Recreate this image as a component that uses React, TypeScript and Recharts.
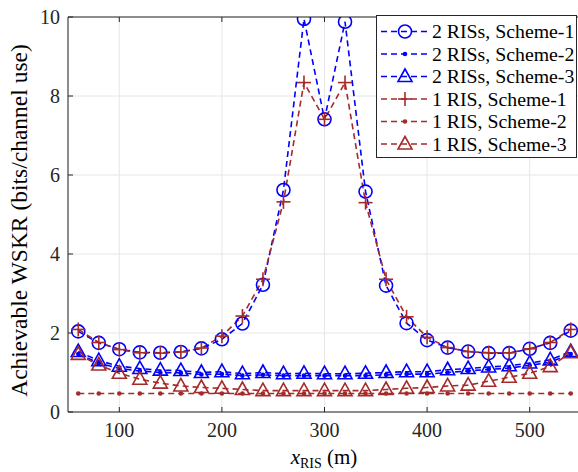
import React from 'react'
import { LineChart, Line, XAxis, YAxis, CartesianGrid, ReferenceLine } from 'recharts'

// sampled RIS positions (m)
const xRis = [60, 80, 100, 120, 140, 160, 180, 200, 220, 240, 260, 280, 300, 320, 340, 360, 380, 400, 420, 440, 460, 480, 500, 520, 540]

const twoRisScheme1 = [2.04, 1.75, 1.59, 1.51, 1.5, 1.52, 1.61, 1.84, 2.24, 3.22, 5.62, 9.95, 7.41, 9.88, 5.58, 3.2, 2.25, 1.82, 1.63, 1.53, 1.49, 1.49, 1.6, 1.75, 2.06]
const twoRisScheme2 = [1.47, 1.24, 1.1, 1.04, 1.0, 0.99, 0.95, 0.96, 0.92, 0.94, 0.92, 0.92, 0.92, 0.92, 0.92, 0.94, 0.96, 0.96, 1.0, 1.04, 1.08, 1.11, 1.18, 1.26, 1.47]
const twoRisScheme3 = [1.53, 1.3, 1.16, 1.1, 1.06, 1.05, 1.0, 1.02, 0.97, 1.0, 0.97, 0.98, 0.97, 0.97, 0.98, 1.0, 1.02, 1.02, 1.07, 1.1, 1.14, 1.17, 1.24, 1.32, 1.53]
const oneRisScheme1 = [2.09, 1.76, 1.58, 1.5, 1.49, 1.52, 1.62, 1.92, 2.43, 3.36, 5.32, 8.34, 7.41, 8.34, 5.3, 3.36, 2.41, 1.89, 1.63, 1.53, 1.5, 1.5, 1.6, 1.76, 2.09]
const oneRisScheme2 = [0.47, 0.47, 0.47, 0.47, 0.47, 0.47, 0.47, 0.47, 0.47, 0.47, 0.47, 0.47, 0.47, 0.47, 0.47, 0.47, 0.47, 0.47, 0.47, 0.47, 0.47, 0.47, 0.47, 0.47, 0.47]
const oneRisScheme3 = [1.46, 1.19, 0.98, 0.83, 0.73, 0.66, 0.62, 0.6, 0.57, 0.54, 0.54, 0.54, 0.54, 0.54, 0.54, 0.57, 0.6, 0.62, 0.66, 0.68, 0.78, 0.88, 0.98, 1.15, 1.5]

const xTicks = [100, 200, 300, 400, 500]
const yTicks = [0, 2, 4, 6, 8, 10]

const BLUE = '#0000FF'
const RED = '#A52A2A'
const AXIS = '#262626'
const FONT = '"Liberation Serif", "Times New Roman", serif'

const series = [
  { key: 's2r1', label: '2 RISs, Scheme-1', color: BLUE, marker: 'circle', values: twoRisScheme1 },
  { key: 's2r2', label: '2 RISs, Scheme-2', color: BLUE, marker: 'dot', values: twoRisScheme2 },
  { key: 's2r3', label: '2 RISs, Scheme-3', color: BLUE, marker: 'triangle', values: twoRisScheme3 },
  { key: 's1r1', label: '1 RIS, Scheme-1', color: RED, marker: 'plus', values: oneRisScheme1 },
  { key: 's1r2', label: '1 RIS, Scheme-2', color: RED, marker: 'dot', values: oneRisScheme2 },
  { key: 's1r3', label: '1 RIS, Scheme-3', color: RED, marker: 'triangle', values: oneRisScheme3 },
]

const data = xRis.map((x, i) => {
  const row: any = { x }
  series.forEach((s) => (row[s.key] = s.values[i]))
  return row
})

const W = 584
const H = 472
const PLOT_TOP = 17
const PLOT_BOTTOM = 412
const PLOT_LEFT = 68

function Marker({ kind, cx, cy, color }: { kind: string; cx: number; cy: number; color: string }) {
  if (cx == null || cy == null) return null
  if (kind === 'circle') return <circle cx={cx} cy={cy} r={6.5} fill="none" stroke={color} strokeWidth={1.6} />
  if (kind === 'dot') return <circle cx={cx} cy={cy} r={2.3} fill={color} stroke="none" />
  if (kind === 'plus')
    return (
      <g stroke={color} strokeWidth={1.6}>
        <line x1={cx - 7} y1={cy} x2={cx + 7} y2={cy} />
        <line x1={cx} y1={cy - 7} x2={cx} y2={cy + 7} />
      </g>
    )
  return (
    <polygon
      points={`${cx},${cy - 7.5} ${cx - 7},${cy + 5} ${cx + 7},${cy + 5}`}
      fill="none"
      stroke={color}
      strokeWidth={1.6}
    />
  )
}

const XTick = (props: any) => {
  const { x, payload } = props
  return (
    <g>
      <line x1={x} y1={PLOT_BOTTOM} x2={x} y2={PLOT_BOTTOM - 5} stroke={AXIS} />
      <line x1={x} y1={PLOT_TOP} x2={x} y2={PLOT_TOP + 5} stroke={AXIS} />
      <text x={x} y={PLOT_BOTTOM + 25} textAnchor="middle" fontSize={20} fill={AXIS} fontFamily={FONT}>
        {payload.value}
      </text>
    </g>
  )
}

const YTick = (props: any) => {
  const { y, payload } = props
  return (
    <g>
      <line x1={PLOT_LEFT} y1={y} x2={PLOT_LEFT + 5} y2={y} stroke={AXIS} />
      <text x={PLOT_LEFT - 8} y={y + 7} textAnchor="end" fontSize={20} fill={AXIS} fontFamily={FONT}>
        {payload.value}
      </text>
    </g>
  )
}

function LegendBox() {
  const rowH = 22.5
  return (
    <svg
      width={201}
      height={143}
      style={{ position: 'absolute', left: 376, top: 15, background: '#fff' }}
    >
      <rect x={0.5} y={0.5} width={200} height={142} fill="#fff" stroke={AXIS} strokeWidth={1} />
      {series.map((s, i) => {
        const cy = 16.5 + i * rowH
        return (
          <g key={s.key}>
            <line x1={5} y1={cy} x2={52} y2={cy} stroke={s.color} strokeWidth={1.6} strokeDasharray="6 4" />
            <Marker kind={s.marker} cx={29} cy={cy} color={s.color} />
            <text x={56} y={cy + 6.5} fontSize={19.8} fill="#000" fontFamily={FONT}>
              {s.label}
            </text>
          </g>
        )
      })}
    </svg>
  )
}

export default function App() {
  return (
    <div style={{ position: 'absolute', left: 0, top: 0, width: 578, height: H, overflow: 'hidden', background: '#fff' }}>
      <LineChart width={W} height={H} data={data} margin={{ top: PLOT_TOP, right: 3, bottom: 0, left: 38 }}>
        <CartesianGrid stroke="#E6E6E6" vertical horizontal />
        <XAxis
          dataKey="x"
          type="number"
          domain={[50, 550]}
          ticks={xTicks}
          allowDataOverflow
          height={60}
          stroke={AXIS}
          tickLine={false}
          tickSize={0}
          tickMargin={0}
          tick={<XTick />}
        />
        <YAxis
          type="number"
          domain={[0, 10]}
          ticks={yTicks}
          allowDataOverflow
          width={30}
          stroke={AXIS}
          tickLine={false}
          tickSize={0}
          tickMargin={0}
          tick={<YTick />}
        />
        <ReferenceLine y={10} stroke={AXIS} />
        {series.map((s) => (
          <Line
            key={s.key}
            dataKey={s.key}
            name={s.label}
            type="linear"
            stroke={s.color}
            strokeWidth={1.6}
            strokeDasharray="6 4"
            isAnimationActive={false}
            dot={(p: any) => <Marker key={`${s.key}-${p.index}`} kind={s.marker} cx={p.cx} cy={p.cy} color={s.color} />}
            activeDot={false}
          />
        ))}
      </LineChart>
      <div
        style={{
          position: 'absolute',
          left: 0,
          top: 0,
          width: 40,
          height: PLOT_BOTTOM + 10,
        }}
      >
        <svg width={40} height={PLOT_BOTTOM + 10}>
          <text
            transform={`translate(27, ${(PLOT_TOP + PLOT_BOTTOM) / 2 + 6}) rotate(-90)`}
            textAnchor="middle"
            fontSize={23.5}
            fill="#000"
            fontFamily={FONT}
          >
            Achievable WSKR (bits/channel use)
          </text>
        </svg>
      </div>
      <svg width={200} height={30} style={{ position: 'absolute', left: 224, top: 440 }}>
        <text x={100} y={24} textAnchor="middle" fontSize={21} fill="#000" fontFamily={FONT}>
          <tspan fontStyle="italic">x</tspan>
          <tspan fontSize={14} dy={4}>RIS</tspan>
          <tspan dy={-4}> (m)</tspan>
        </text>
      </svg>
      <LegendBox />
    </div>
  )
}
